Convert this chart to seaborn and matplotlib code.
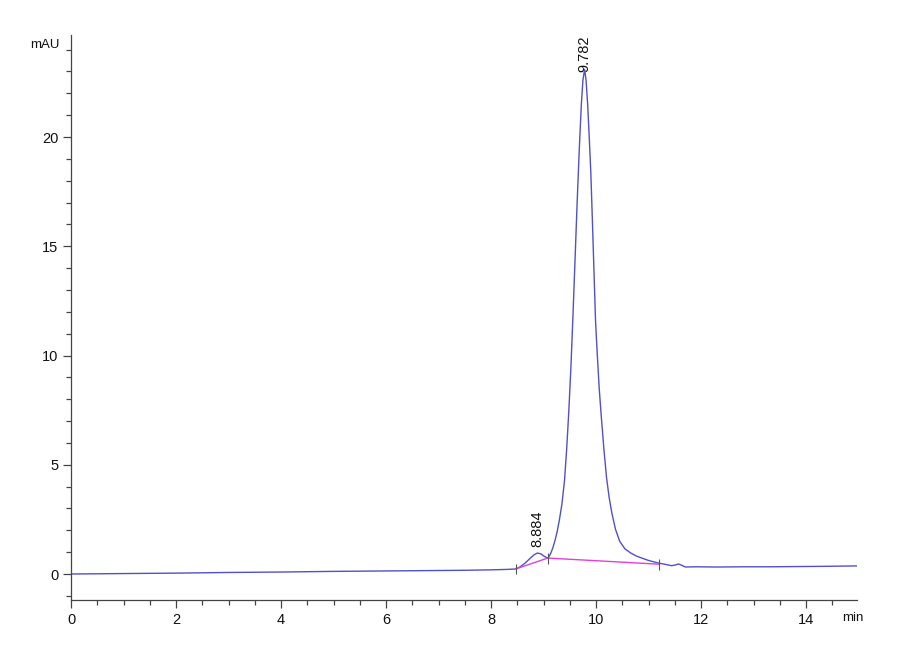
import numpy as np
import pandas as pd
import matplotlib
matplotlib.use("Agg")
import matplotlib.pyplot as plt
import matplotlib.font_manager as fm
from matplotlib.ticker import MultipleLocator
import seaborn as sns

# ---- data ----
time_min = [0.0, 1.0, 2.0, 3.0, 4.0, 5.0, 6.0, 7.0, 7.5, 8.0, 8.3, 8.47,
            8.55, 8.65, 8.75, 8.82, 8.884, 8.95, 9.02, 9.08, 9.11, 9.14, 9.18,
            9.22, 9.26, 9.30, 9.35, 9.40, 9.44, 9.48, 9.52, 9.56, 9.60, 9.64,
            9.68, 9.72, 9.75, 9.782, 9.81, 9.84, 9.87, 9.90, 9.93, 9.96, 9.99,
            10.02, 10.06, 10.10, 10.15, 10.20, 10.25, 10.30, 10.37, 10.45,
            10.55, 10.66, 10.76, 10.87, 11.0, 11.19, 11.30, 11.44, 11.52,
            11.57, 11.63, 11.70, 11.90, 12.3, 12.8, 13.3, 13.8, 14.3, 14.97]
signal_mau = [0.0, 0.02, 0.04, 0.07, 0.09, 0.12, 0.14, 0.16, 0.17, 0.19, 0.21,
              0.23, 0.32, 0.50, 0.73, 0.88, 0.96, 0.92, 0.80, 0.73, 0.82, 0.96,
              1.22, 1.55, 1.95, 2.45, 3.2, 4.3, 5.7, 7.4, 9.4, 11.8, 14.4,
              17.0, 19.4, 21.5, 22.6, 23.1, 22.6, 21.5, 20.0, 18.4, 16.2, 13.9,
              11.6, 10.2, 8.5, 7.2, 5.7, 4.4, 3.5, 2.8, 2.05, 1.5, 1.15, 0.96,
              0.83, 0.73, 0.62, 0.50, 0.45, 0.38, 0.42, 0.46, 0.40, 0.32, 0.33,
              0.32, 0.33, 0.33, 0.34, 0.35, 0.37]

# integration baseline (boundaries)
base_time = [8.47, 9.08, 11.19]
base_mau = [0.23, 0.73, 0.45]

# labelled peaks
peak_time = [8.884, 9.782]
peak_mau = [0.96, 23.1]
peak_label = ["8.884", "9.782"]
peak_offset_pt = [4, -2]

x_label = "min"
y_label = "mAU"

# ---- style ----
sns.set_style("ticks")
names = {f.name for f in fm.fontManager.ttflist}
fam = "Liberation Sans Narrow" if "Liberation Sans Narrow" in names else "Liberation Sans"
plt.rcParams["font.family"] = [fam, "DejaVu Sans"]

df = pd.DataFrame({"t": time_min, "y": signal_mau})
bl = pd.DataFrame({"t": base_time, "y": base_mau})

fig = plt.figure(figsize=(9, 6.6), dpi=100)
ax = fig.add_axes([71 / 900, 60 / 660, 786 / 900, 565 / 660])

sns.lineplot(data=df, x="t", y="y", ax=ax, color="#5050c8", linewidth=1.0)
sns.lineplot(data=bl, x="t", y="y", ax=ax, color="#e040d8", linewidth=1.0)
ax.vlines(base_time, [v - 0.25 for v in base_mau], [v + 0.25 for v in base_mau],
          color="#555555", linewidth=0.8)

for t, v, lab, off in zip(peak_time, peak_mau, peak_label, peak_offset_pt):
    ax.annotate(lab, xy=(t, v), xytext=(0, off), textcoords="offset points",
                rotation=90, ha="center", va="bottom", fontsize=10.5,
                color="#111111")

ax.set_xlim(0, 14.97)
ax.set_ylim(-1.19, 24.67)
ax.set_xlabel("")
ax.set_ylabel("")
ax.xaxis.set_major_locator(MultipleLocator(2))
ax.xaxis.set_minor_locator(MultipleLocator(0.5))
ax.yaxis.set_major_locator(MultipleLocator(5))
ax.yaxis.set_minor_locator(MultipleLocator(1))
ax.tick_params(which="major", length=6, width=0.9, color="#444444",
               labelsize=10.5, labelcolor="#111111", pad=3)
ax.tick_params(which="minor", length=3.5, width=0.9, color="#444444")
for s in ["top", "right"]:
    ax.spines[s].set_visible(False)
for s in ["left", "bottom"]:
    ax.spines[s].set_color("#444444")
    ax.spines[s].set_linewidth(0.9)

ax.text(-0.014, 0.982, y_label, transform=ax.transAxes, ha="right",
        va="center", fontsize=9.5, color="#111111")
ax.text(0.981, -0.032, x_label, transform=ax.transAxes, ha="left",
        va="center", fontsize=9.5, color="#111111")

fig.savefig("out.png", dpi=100)
